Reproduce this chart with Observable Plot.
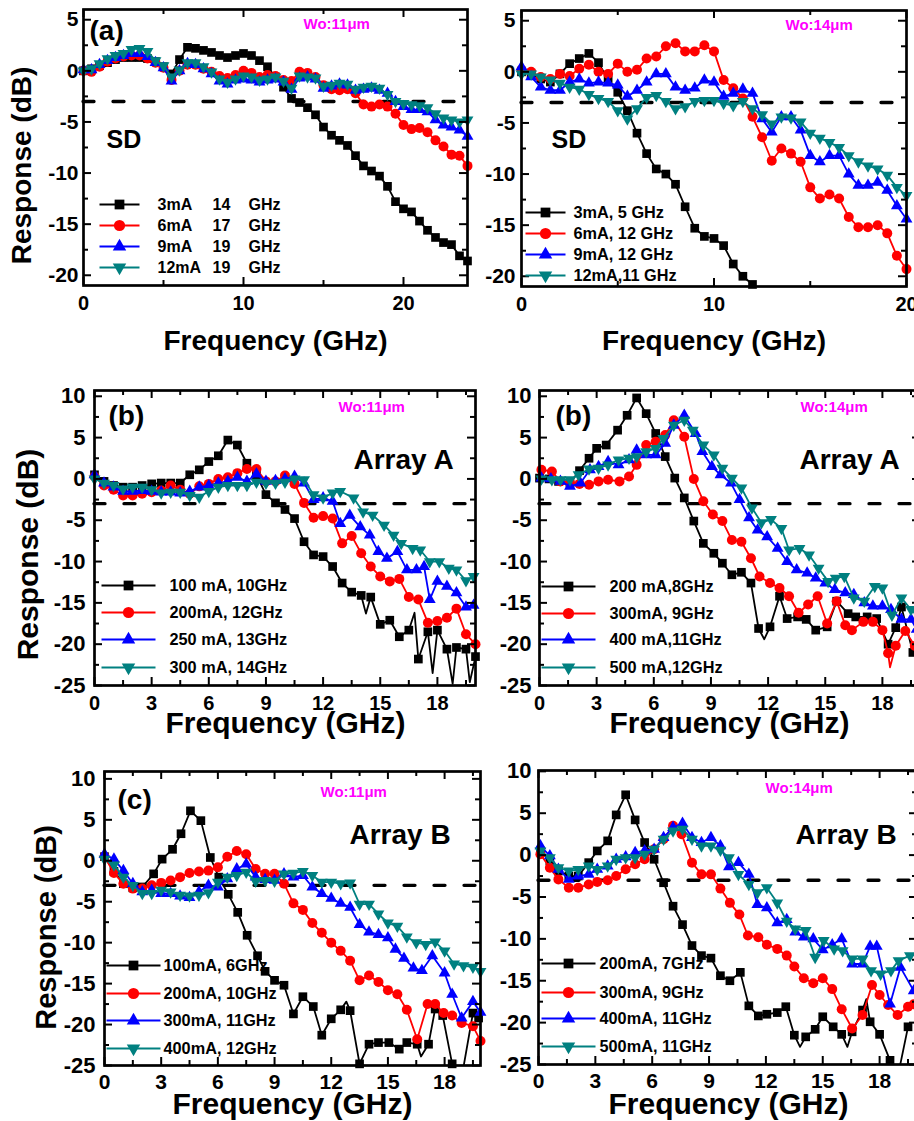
<!DOCTYPE html>
<html><head><meta charset="utf-8">
<script src="https://cdn.jsdelivr.net/npm/d3@7"></script>
<script src="https://cdn.jsdelivr.net/npm/@observablehq/plot@0.6"></script>
<style>
html,body{margin:0;padding:0;background:#fff;overflow:hidden;}
#fig{position:relative;width:914px;height:1121px;overflow:hidden;background:#fff;}
#fig svg{position:absolute;}
</style></head>
<body><div id="fig"></div>
<script>
// ---------------- DATA ----------------
// (a) SD, Wo: 11 µm  — shared frequency grid (GHz)
const freqA11 = [0,0.5,1,1.5,2,2.5,3,3.5,4,4.5,5,5.5,6,6.5,7,7.5,8,8.5,9,9.5,10,10.5,11,11.5,12,12.5,13,13.5,14,14.5,15,15.5,16,16.5,17,17.5,18,18.5,19,19.5,20,20.5,21,21.5,22,22.5,23,23.5,24];
const dbA11_3mA  = [0,0.2,0.5,0.8,1.1,1.3,1.3,1.3,1.2,0.9,0.4,-0.3,1.1,2.3,2.2,2.0,1.8,1.5,1.3,1.5,1.7,1.5,1.0,0.4,-0.6,-1.6,-2.7,-3.1,-3.6,-4.3,-5.5,-6.3,-6.8,-7.3,-8.3,-9.3,-9.8,-10.3,-11.3,-12.8,-13.5,-13.8,-14.7,-15.6,-16.3,-16.8,-17.0,-18.1,-18.6];
const dbA11_6mA  = [0,-0.1,0.4,0.9,1.2,1.4,1.5,1.5,1.2,0.8,0.3,-0.9,0.0,0.6,0.6,0.2,-0.1,-0.5,-0.7,-0.4,0.0,-0.2,-0.6,-0.4,-0.5,-0.9,-1.0,-0.1,-0.2,-0.6,-1.4,-1.8,-1.9,-1.8,-2.2,-3.3,-3.5,-3.3,-3.5,-4.2,-5.3,-5.7,-5.6,-6.0,-6.8,-7.4,-8.2,-8.3,-9.3];
const dbA11_9mA  = [0.1,0.1,0.6,1.0,1.3,1.5,1.7,1.7,1.4,0.8,0.3,-1.0,0.0,0.7,0.6,0.2,-0.3,-1.0,-1.3,-0.9,-0.8,-0.9,-1.1,-0.9,-0.8,-1.1,-1.8,-0.7,-0.6,-0.8,-1.7,-1.5,-1.3,-1.4,-1.9,-1.8,-1.7,-1.9,-2.2,-3.0,-3.5,-3.8,-3.8,-4.0,-4.8,-5.3,-5.5,-5.8,-6.4];
const dbA11_12mA = [0,0.2,0.7,1.2,1.5,1.7,2.1,2.2,1.9,1.0,0.5,-0.6,0.1,0.8,0.8,0.4,-0.1,-0.8,-1.1,-0.8,-0.5,-0.6,-0.9,-0.8,-0.6,-1.0,-1.7,-0.5,-0.6,-0.7,-1.5,-1.4,-1.2,-1.3,-1.8,-1.6,-1.5,-1.7,-2.3,-3.0,-3.2,-3.3,-3.4,-3.6,-4.2,-4.6,-4.8,-5.0,-4.8];

// (a) SD, Wo: 14 µm
const freqA14 = [0,0.5,1,1.5,2,2.5,3,3.5,4,4.5,5,5.5,6,6.5,7,7.5,8,8.5,9,9.5,10,10.5,11,11.5,12,12.5,13,13.5,14,14.5,15,15.5,16,16.5,17,17.5,18,18.5,19,19.5,20];
const dbA14_3mA  = [0,-0.2,-0.7,-1.0,-0.2,0.8,1.3,1.8,0.9,-0.8,-2.0,-3.8,-6.0,-8.0,-9.5,-10.0,-11.0,-13.2,-15.3,-16.1,-16.3,-17.0,-18.8,-20.0,-20.8];
const dbA14_6mA  = [0.2,0,-0.5,-0.7,-0.2,-0.4,0.3,0.7,0.0,-0.2,0.8,0.0,0.2,1.3,1.5,2.5,2.8,2.0,2.0,2.6,2.0,-0.8,-1.6,-2.6,-4.4,-6.4,-8.7,-7.5,-8.0,-8.8,-11.3,-12.4,-12.0,-12.4,-14.2,-15.2,-15.2,-15.0,-15.8,-18.0,-19.3];
const dbA14_9mA  = [0.5,-0.5,-1.5,-1.8,-1.8,-1.0,-0.7,-1.1,-1.0,-1.1,-1.3,-2.4,-1.8,-1.0,-0.2,-0.2,-1.5,-1.8,-1.6,-0.8,-1.0,-2.4,-2.1,-1.7,-2.1,-4.6,-5.9,-4.4,-4.4,-5.7,-8.2,-8.8,-8.2,-8.2,-10.0,-11.1,-11.1,-10.8,-11.6,-13.1,-14.4];
const dbA14_12mA = [-0.2,-0.2,-0.5,-0.8,-1.1,-1.5,-1.7,-2.2,-2.6,-2.9,-3.8,-4.6,-3.6,-2.5,-2.3,-2.9,-3.6,-3.4,-2.9,-2.8,-2.8,-3.1,-3.3,-2.9,-3.6,-4.2,-5.1,-4.4,-4.5,-4.9,-6.0,-6.5,-6.9,-7.4,-8.2,-8.8,-9.2,-9.5,-10.1,-11.3,-12.1];

// (b) Array A, Wo: 11 µm  — [GHz, dB]
const B11_100mA = [[0,0.5],[0.5,-0.3],[1,-0.8],[1.5,-1.0],[2,-1.0],[2.5,-0.8],[3,-0.6],[3.5,-0.5],[4,-0.5],[4.5,-0.5],[5,0.5],[5.5,1.1],[6,2.1],[6.5,2.8],[7,4.7],[7.5,4.1],[8,1.9],[8.5,0.5],[9,-1.9],[9.5,-2.9],[10,-3.7],[10.5,-4.8],[11,-7.6],[11.5,-9.2],[12,-9.4],[12.5,-10.6],[13,-12.6],[13.5,-13.7],[14,-14.1],[14.5,-14.3],[15,-17.6],[15.5,-17.1],[16,-19.1],[16.5,-18.3],[17,-21.8],[17.5,-18.5],[18,-18.3],[18.5,-20.6],[19,-20.4],[19.5,-20.6],[20,-21.5]];
const B11_100mA_raw = [[14.25,-16.3],[16.8,-16.2],[17.75,-23.5],[18.8,-24.8],[19.7,-24.6]];
const B11_200mA = [[0,0.3],[0.5,-0.8],[1,-1.3],[1.5,-2.0],[2,-2.0],[2.5,-1.8],[3,-1.6],[3.5,-1.4],[4,-0.8],[4.5,-1.3],[5,-1.8],[5.5,-0.9],[6,-0.6],[6.5,0.0],[7,0.2],[7.5,0.7],[8,1.2],[8.5,1.2],[9,-0.3],[9.5,-0.3],[10,0.4],[10.5,-0.6],[11,-2.9],[11.5,-4.7],[12,-4.5],[12.5,-4.8],[13,-7.8],[13.5,-6.9],[14,-9.0],[14.5,-10.6],[15,-11.8],[15.5,-12.4],[16,-12.1],[16.5,-14.3],[17,-14.6],[17.5,-17.4],[18,-17.2],[18.5,-16.8],[19,-15.7],[19.5,-18.8],[20,-20.0]];
const B11_250mA = [[0,0.5],[0.5,-0.5],[1,-1.0],[1.5,-1.5],[2,-1.5],[2.5,-1.4],[3,-1.5],[3.5,-1.6],[4,-1.6],[4.5,-1.7],[5,-1.5],[5.5,-1.0],[6,-0.8],[6.5,-0.5],[7,-0.3],[7.5,0.2],[8,-0.3],[8.5,0.6],[9,-0.3],[9.5,-0.2],[10,0.0],[10.5,0.3],[11,-0.5],[11.5,-2.5],[12,-2.3],[12.5,-2.7],[12.9,-5.4],[13.4,-4.4],[13.95,-5.8],[14.45,-6.8],[14.9,-8.8],[15.35,-9.6],[15.9,-8.8],[16.4,-11.0],[16.9,-11.0],[17.3,-10.6],[17.6,-14.6],[18.0,-12.4],[18.5,-13.0],[19.0,-13.8],[19.5,-15.5],[19.9,-15.3]];
const B11_300mA = [[0,0.0],[0.5,-0.5],[1,-0.8],[1.5,-1.2],[2,-1.0],[2.5,-1.0],[3,-1.3],[3.5,-1.7],[4,-1.6],[4.5,-1.6],[5,-2.0],[5.5,-2.2],[6,-1.5],[6.5,-1.0],[7,-0.8],[7.5,-0.8],[8,-0.8],[8.5,-0.4],[9,-0.5],[9.5,-0.5],[10,-0.4],[10.5,0.0],[11,-0.1],[11.5,-1.9],[12,-2.3],[12.5,-1.7],[12.9,-1.5],[13.6,-2.3],[14.1,-4.0],[14.6,-4.4],[15.2,-5.6],[15.7,-6.8],[16.1,-7.8],[16.7,-8.4],[17.1,-8.6],[17.6,-10.0],[18.1,-10.0],[18.6,-10.8],[19.0,-11.0],[19.5,-12.3],[19.9,-11.8]];

// (b) Array A, Wo: 14 µm
const B14_200mA = [[0,0.1],[0.5,0],[1.0,-0.3],[1.6,-0.5],[2.1,1.0],[2.6,2.5],[3.0,3.7],[3.5,4.1],[4.1,5.9],[4.6,7.7],[5.1,9.8],[5.6,7.9],[6.1,5.5],[6.6,2.7],[7.1,0.1],[7.6,-2.3],[8.1,-5.1],[8.6,-7.8],[9.15,-9.0],[9.6,-10.2],[10.1,-11.6],[10.6,-11.3],[11.1,-12.6],[11.5,-18.1],[12.1,-17.9],[12.6,-14.2],[13.0,-16.9],[13.55,-16.7],[14.0,-17.0],[14.5,-18.3],[15.1,-17.9],[15.6,-14.8],[16.2,-16.3],[16.6,-16.7],[17.2,-16.7],[17.7,-16.9],[18.3,-20.0],[18.7,-18.0],[19.0,-15.5],[19.6,-21.0]];
const B14_200mA_raw = [[11.8,-19.4]];
const B14_300mA = [[0.1,1.1],[0.65,0.9],[1.1,-0.3],[1.6,-0.5],[2.1,-0.6],[2.6,-0.7],[3.1,-0.3],[3.6,-0.1],[4.2,-0.3],[4.7,0.3],[5.1,1.7],[5.6,4.1],[6.1,4.5],[6.6,5.3],[7.05,7.1],[7.6,5.1],[8.1,0.0],[8.6,-2.7],[9.1,-4.3],[9.6,-5.1],[10.1,-7.4],[10.6,-7.6],[11.1,-9.6],[11.55,-11.8],[12.1,-12.6],[12.6,-13.2],[13.1,-14.2],[13.6,-16.2],[14.1,-15.2],[14.6,-14.2],[15.1,-17.5],[15.6,-14.8],[16.05,-17.7],[16.4,-18.3],[17.0,-17.3],[17.5,-17.3],[18.0,-18.3],[18.3,-21.1],[18.7,-20.2],[19.2,-18.4],[19.7,-20.2]];
const B14_300mA_raw = [[18.4,-22.8]];
const B14_400mA = [[0.1,0.1],[0.6,0],[1.1,-0.3],[1.6,-0.9],[2.15,-0.5],[2.65,1.1],[3.1,1.5],[3.6,2.1],[4.15,1.7],[4.7,2.3],[5.1,3.5],[5.6,2.9],[6.1,2.9],[6.6,4.3],[7.05,6.5],[7.6,7.7],[8.2,5.5],[8.55,3.3],[9.05,1.5],[9.5,0.5],[10.05,-0.5],[10.5,-2.5],[11.0,-4.7],[11.45,-6.2],[11.95,-7.0],[12.5,-8.4],[13.0,-10.0],[13.5,-11.0],[14.05,-11.4],[14.5,-12.0],[15.0,-12.6],[15.5,-13.4],[16.05,-13.8],[16.5,-14.0],[17.05,-15.0],[17.5,-15.4],[18.0,-15.4],[18.45,-15.8],[19.0,-17.0],[19.5,-17.0],[19.8,-18.2]];
const B14_500mA = [[0.1,0],[0.65,-0.1],[1.1,-0.1],[1.6,-0.1],[2.05,0.5],[2.6,1.2],[3.1,1.3],[3.6,1.7],[4.15,2.3],[4.7,2.5],[5.1,2.7],[5.6,3.3],[6.1,3.7],[6.5,4.9],[7.05,6.5],[7.6,7.1],[8.05,5.9],[8.6,4.1],[9.15,2.9],[9.6,1.3],[10.1,0.1],[10.6,-1.1],[11.15,-3.5],[11.65,-5.3],[12.15,-4.9],[12.7,-6.0],[13.1,-8.6],[13.65,-8.4],[14.15,-9.2],[14.65,-10.8],[15.15,-12.4],[15.55,-12.0],[16.0,-11.8],[16.5,-14.4],[17.05,-14.8],[17.6,-13.0],[18.0,-13.2],[18.5,-16.5],[19.0,-14.4],[19.5,-15.8],[19.9,-16.5]];

// (c) Array B, Wo: 11 µm
const C11_100mA = [[0,0.5],[0.5,-1.3],[1,-2.8],[1.5,-3.3],[2,-3.2],[2.6,-1.6],[3.05,0.2],[3.6,1.4],[4.05,3.3],[4.55,6.1],[5.1,4.9],[5.6,0.4],[6.05,-2.0],[6.55,-4.1],[7.05,-6.3],[7.55,-9.1],[8.1,-11.6],[8.5,-13.5],[9.0,-14.6],[9.5,-15.2],[10.0,-18.7],[10.5,-16.6],[11.05,-17.8],[11.5,-21.3],[12.0,-19.3],[12.5,-18.2],[13.0,-18.3],[13.5,-24.8],[14.0,-22.4],[14.5,-22.2],[15.05,-22.2],[15.6,-23.0],[16.0,-22.2],[16.55,-22.4],[17.15,-22.4],[17.5,-18.1],[17.9,-18.9],[18.4,-24.8],[19.5,-18.6],[19.8,-19.2]];
const C11_100mA_raw = [[12.8,-17.2],[16.75,-23.9],[18.9,-26.5]];
const C11_200mA = [[0,0.5],[0.5,-1.5],[1,-2.8],[1.5,-3.4],[2,-3.4],[2.5,-3.0],[3,-2.7],[3.5,-2.4],[4,-2.0],[4.5,-1.5],[5,-1.3],[5.5,-1.2],[6,-0.8],[6.5,0.5],[7,1.2],[7.5,0.8],[8,-1.0],[8.5,-1.6],[9,-1.6],[9.5,-2.8],[10,-5.2],[10.5,-6.0],[11,-7.6],[11.5,-8.8],[12,-10.0],[12.5,-11.0],[13,-12.2],[13.5,-14.6],[14,-14.0],[14.5,-14.8],[15,-15.8],[15.5,-16.3],[16,-18.2],[16.55,-21.8],[17.1,-17.5],[17.5,-17.5],[17.95,-18.6],[18.4,-18.9],[18.9,-19.8],[19.5,-20.2],[19.9,-22.0]];
const C11_300mA = [[0,0.8],[0.5,0.2],[1,-1.2],[1.5,-2.8],[2,-3.8],[2.5,-3.6],[3,-4.0],[3.5,-4.0],[4,-4.3],[4.5,-4.5],[5,-3.8],[5.5,-3.0],[6,-3.2],[6.5,-2.2],[7,-1.0],[7.5,-0.4],[8,-2.0],[8.5,-2.3],[9,-2.4],[9.5,-1.6],[10,-2.0],[10.5,-1.8],[11,-3.2],[11.5,-4.0],[12,-4.6],[12.5,-5.2],[13,-5.7],[13.5,-7.8],[14,-8.7],[14.5,-9.0],[15,-9.4],[15.4,-10.8],[15.85,-11.9],[16.35,-13.1],[16.8,-13.4],[17.35,-11.6],[18.0,-13.7],[18.4,-16.3],[18.9,-19.2],[19.5,-17.2],[19.9,-18.5]];
const C11_400mA = [[0,0.2],[0.5,-0.5],[1,-2.0],[1.5,-3.0],[2,-4.0],[2.5,-4.0],[3,-3.6],[3.5,-3.8],[4,-4.2],[4.5,-4.3],[5,-4.2],[5.5,-3.9],[6,-2.6],[6.5,-2.0],[7,-1.8],[7.5,-1.4],[8,-2.5],[8.5,-2.4],[9,-2.5],[9.5,-1.6],[10,-1.5],[10.5,-1.3],[11,-1.8],[11.5,-2.6],[12,-2.6],[12.5,-2.8],[13,-2.7],[13.5,-5.3],[14,-5.3],[14.5,-6.5],[15,-7.6],[15.5,-8.0],[16,-9.3],[16.5,-10.0],[17,-10.2],[17.5,-9.9],[18,-11.0],[18.5,-12.6],[19,-12.8],[19.5,-13.0],[19.9,-13.5]];

// (c) Array B, Wo: 14 µm
const C14_200mA = [[0.1,0.5],[0.6,-0.7],[1.05,-1.9],[1.6,-2.5],[2.1,-2.5],[2.65,-0.9],[3.1,0.5],[3.65,1.7],[4.1,4.8],[4.6,7.2],[5.1,4.2],[5.6,1.5],[6.1,-0.5],[6.6,-3.3],[7.1,-6.1],[7.6,-8.3],[8.1,-10.8],[8.6,-12.0],[9.1,-12.3],[9.6,-14.4],[10.1,-15.0],[10.65,-14.0],[11.1,-18.0],[11.6,-19.2],[12.05,-19.0],[12.6,-18.8],[13.05,-18.1],[13.5,-21.5],[14.1,-21.7],[14.6,-20.8],[15.0,-19.3],[15.55,-20.5],[16.0,-21.4],[16.55,-21.1],[17.1,-18.5],[17.5,-19.9],[18.0,-21.4],[18.55,-24.5],[19.0,-26],[19.5,-20.5]];
const C14_200mA_raw = [[13.8,-22.9],[16.3,-22.9],[17.3,-17.2]];
const C14_300mA = [[0.1,0.1],[0.6,-1.5],[1.05,-2.9],[1.6,-3.9],[2.1,-3.9],[2.65,-3.5],[3.1,-3.2],[3.65,-3.0],[4.1,-2.5],[4.6,-1.7],[5.1,-1.1],[5.6,-0.5],[6.1,0.7],[6.6,1.9],[7.1,3.5],[7.55,2.5],[8.1,-0.9],[8.6,-2.3],[9.1,-2.3],[9.6,-4.0],[10.1,-5.7],[10.6,-7.1],[11.05,-9.6],[11.6,-9.8],[12.05,-10.7],[12.6,-11.2],[13.1,-12.0],[13.5,-13.3],[14.0,-14.7],[14.5,-15.3],[15.0,-14.7],[15.5,-16.0],[16.0,-18.4],[16.55,-20.7],[17.1,-19.1],[17.6,-15.5],[18.0,-16.7],[18.45,-17.9],[18.95,-19.1],[19.5,-18.1],[19.8,-17.8]];
const C14_400mA = [[0.1,1.1],[0.6,-0.1],[1.05,-1.7],[1.6,-2.9],[2.1,-2.5],[2.65,-2.3],[3.1,-1.7],[3.65,-1.3],[4.1,-0.5],[4.6,-0.2],[5.1,0.3],[5.6,0.5],[6.1,0.7],[6.6,2.1],[7.1,3.3],[7.6,3.8],[8.1,2.1],[8.6,1.5],[9.1,2.1],[9.6,1.1],[10.05,-1.4],[10.55,-0.9],[11.1,-2.3],[11.55,-5.9],[12.05,-6.3],[12.6,-8.1],[13.1,-7.7],[13.55,-9.2],[14.0,-9.8],[14.5,-10.0],[15.0,-11.3],[15.5,-10.7],[16.0,-10.0],[16.55,-13.0],[17.1,-13.0],[17.5,-10.9],[17.85,-10.9],[18.55,-17.8],[19.1,-13.4],[19.8,-16.2]];
const C14_500mA = [[0.1,0.5],[0.6,-0.3],[1.05,-1.5],[1.6,-1.9],[2.1,-1.7],[2.65,-1.3],[3.1,-1.7],[3.65,-1.3],[4.1,-0.5],[4.6,-0.3],[5.1,-0.3],[5.6,0.1],[6.1,0.7],[6.6,1.9],[7.1,2.9],[7.6,3.1],[8.1,1.9],[8.6,1.1],[9.1,1.1],[9.6,0.6],[10.05,-0.3],[10.55,-2.3],[11.1,-3.5],[11.55,-4.5],[12.05,-3.9],[12.6,-5.7],[13.1,-7.9],[13.55,-8.8],[14.1,-9.0],[14.6,-12.2],[15.05,-10.2],[15.6,-11.2],[16.05,-11.4],[16.55,-12.4],[17.1,-12.4],[17.55,-13.8],[18.05,-14.2],[18.6,-13.8],[19.0,-12.6],[19.6,-12.0]];

// Legend texts
const legendA11 = [["3mA","14","GHz"],["6mA","17","GHz"],["9mA","19","GHz"],["12mA","19","GHz"]];
const legendA14 = [["3mA, 5 GHz"],["6mA, 12 GHz"],["9mA, 12 GHz"],["12mA,11 GHz"]];
const legendB11 = [["100 mA, 10GHz"],["200mA, 12GHz"],["250 mA, 13GHz"],["300 mA, 14GHz"]];
const legendB14 = [["200 mA,8GHz"],["300mA, 9GHz"],["400 mA,11GHz"],["500 mA,12GHz"]];
const legendC11 = [["100mA, 6GHz"],["200mA, 10GHz"],["300mA, 11GHz"],["400mA, 12GHz"]];
const legendC14 = [["200mA, 7GHz"],["300mA, 9GHz"],["400mA, 11GHz"],["500mA, 11GHz"]];

// Axis ticks
const xMajorA = [0,10,20], xMinorA = [5,15];
const yMajorA = [-20,-15,-10,-5,0,5], yMinorA = [-17.5,-12.5,-7.5,-2.5,2.5];
const xMajorBC = [0,3,6,9,12,15,18], xMinorBC = [1.5,4.5,7.5,10.5,13.5,16.5,19.5];
const yMajorBC = [-25,-20,-15,-10,-5,0,5,10], yMinorBC = [-22.5,-17.5,-12.5,-7.5,-2.5,2.5,7.5];
const cutoff = [-3];

// ---------------- STYLE ----------------
const FONT = "'Liberation Sans', Arial, Helvetica, sans-serif";
const BLACK = "#000000", RED = "#ff0000", BLUE = "#0000ff", TEAL = "#008080", MAGENTA = "#ff00ff";
const sqrt3 = Math.sqrt(3);
const triangleDown = {draw(ctx, size) {
  const y = -Math.sqrt(size / (sqrt3 * 3));
  ctx.moveTo(0, -y * 2); ctx.lineTo(-sqrt3 * y, y); ctx.lineTo(sqrt3 * y, y); ctx.closePath();
}};
const hline = half => ({draw(ctx) { ctx.moveTo(-half, 0); ctx.lineTo(half, 0); }});
const STY = [
  {color: BLACK, symbol: "square", r: 4.9},
  {color: RED, symbol: "circle", r: 5.0},
  {color: BLUE, symbol: "triangle", r: 4.4},
  {color: TEAL, symbol: triangleDown, r: 4.4}
];

const panels = [
  { left: 0, top: 0, width: 487, height: 370, fl: 83, ft: 9, fr: 467, fb: 285,
    xDomain: [0, 24], yDomain: [-21, 6], xMajor: xMajorA, xMinor: xMinorA, yMajor: yMajorA, yMinor: yMinorA,
    yFont: 21, xFont: 20, yPad: 5, xPad: 10,
    series: [{d: d3.zip(freqA11, dbA11_3mA)}, {d: d3.zip(freqA11, dbA11_6mA)}, {d: d3.zip(freqA11, dbA11_9mA)}, {d: d3.zip(freqA11, dbA11_12mA)}],
    legend: {rows: legendA11, cx: 119, half: 20, tx: [157, 212, 248], cy: [204, 225, 246, 267], size: 16},
    texts: [{t: "(a)", x: 89, y: 31, s: 28}, {t: "Wo:11\u03bcm", x: 303, y: 23.5, s: 15, fill: MAGENTA}, {t: "SD", x: 106, y: 139, s: 25}],
    yTitle: {x: 22, y: 165, s: 28}, xTitle: {x: 275, y: 341, s: 28} },
  { left: 470, top: 0, width: 460, height: 370, fl: 521, ft: 10, fr: 906, fb: 286,
    xDomain: [0, 20], yDomain: [-21, 6], xMajor: xMajorA, xMinor: xMinorA, yMajor: yMajorA, yMinor: yMinorA,
    yFont: 21, xFont: 20, yPad: 6, xPad: 10,
    series: [{d: d3.zip(freqA14, dbA14_3mA)}, {d: d3.zip(freqA14, dbA14_6mA)}, {d: d3.zip(freqA14, dbA14_9mA)}, {d: d3.zip(freqA14, dbA14_12mA)}],
    legend: {rows: legendA14, cx: 545, half: 20, tx: [573], cy: [212, 233, 254, 275], size: 16.3},
    texts: [{t: "Wo:14\u03bcm", x: 785, y: 25, s: 15, fill: MAGENTA}, {t: "SD", x: 551, y: 139, s: 25}],
    xTitle: {x: 713.5, y: 341, s: 28} },
  { left: 0, top: 370, width: 487, height: 370, fl: 94, ft: 390, fr: 475, fb: 685,
    xDomain: [0, 20], yDomain: [-25, 10.7], xMajor: xMajorBC, xMinor: xMinorBC, yMajor: yMajorBC, yMinor: yMinorBC,
    yFont: 22, xFont: 20, yPad: 9, xPad: 10,
    series: [{d: B11_100mA, raw: B11_100mA_raw}, {d: B11_200mA}, {d: B11_250mA}, {d: B11_300mA}],
    legend: {rows: legendB11, cx: 128, half: 27, tx: [169], cy: [585, 612, 639, 667], size: 16.3},
    texts: [{t: "(b)", x: 108, y: 416, s: 28}, {t: "Wo:11\u03bcm", x: 338, y: 407, s: 15, fill: MAGENTA}, {t: "Array A", x: 353, y: 460, s: 28}],
    yTitle: {x: 28, y: 554, s: 30}, xTitle: {x: 285, y: 723, s: 30} },
  { left: 470, top: 370, width: 460, height: 370, fl: 539, ft: 390, fr: 920, fb: 685,
    xDomain: [0, 20], yDomain: [-25, 10.7], xMajor: xMajorBC, xMinor: xMinorBC, yMajor: yMajorBC, yMinor: yMinorBC,
    yFont: 22, xFont: 20, yPad: 8, xPad: 10,
    series: [{d: B14_200mA, raw: B14_200mA_raw}, {d: B14_300mA, raw: B14_300mA_raw}, {d: B14_400mA}, {d: B14_500mA}],
    legend: {rows: legendB14, cx: 568, half: 27, tx: [609], cy: [586, 613, 639, 667], size: 16.3},
    texts: [{t: "(b)", x: 555, y: 416, s: 28}, {t: "Wo:14\u03bcm", x: 800, y: 407, s: 15, fill: MAGENTA}, {t: "Array A", x: 799, y: 460, s: 28}],
    xTitle: {x: 729, y: 723, s: 30} },
  { left: 0, top: 740, width: 487, height: 381, fl: 104, ft: 771, fr: 480, fb: 1065,
    xDomain: [0, 19.9], yDomain: [-25, 10.9], xMajor: xMajorBC, xMinor: xMinorBC, yMajor: yMajorBC, yMinor: yMinorBC,
    yFont: 22, xFont: 21, yPad: 9, xPad: 9,
    series: [{d: C11_100mA, raw: C11_100mA_raw}, {d: C11_200mA}, {d: C11_300mA}, {d: C11_400mA}],
    legend: {rows: legendC11, cx: 133, half: 27, tx: [163], cy: [965, 993, 1020, 1048], size: 16.3},
    texts: [{t: "(c)", x: 117, y: 800, s: 28}, {t: "Wo:11\u03bcm", x: 320, y: 792, s: 15, fill: MAGENTA}, {t: "Array B", x: 349, y: 835, s: 28}],
    yTitle: {x: 46, y: 927, s: 29}, xTitle: {x: 292, y: 1104, s: 30} },
  { left: 470, top: 740, width: 460, height: 381, fl: 538, ft: 770, fr: 917, fb: 1064,
    xDomain: [0, 20], yDomain: [-25, 10.1], xMajor: xMajorBC, xMinor: xMinorBC, yMajor: yMajorBC, yMinor: yMinorBC,
    yFont: 22, xFont: 21, yPad: 7, xPad: 9,
    series: [{d: C14_200mA, raw: C14_200mA_raw}, {d: C14_300mA}, {d: C14_400mA}, {d: C14_500mA}],
    legend: {rows: legendC14, cx: 568, half: 27, tx: [599], cy: [963, 992, 1018, 1046], size: 16.3},
    texts: [{t: "Wo:14\u03bcm", x: 765, y: 788, s: 15, fill: MAGENTA}, {t: "Array B", x: 795, y: 835, s: 28}],
    xTitle: {x: 728, y: 1104, s: 30} }
];

function buildPanel(p) {
  const mL = p.fl - p.left, mT = p.ft - p.top, mR = p.left + p.width - p.fr, mB = p.top + p.height - p.fb;
  const fw = p.fr - p.fl, fh = p.fb - p.ft;
  const at = (px, py) => ({frameAnchor: "top-left", dx: px - p.fl, dy: py - p.ft});
  const txt = (o, extra = {}) => Plot.text([o.t], {...at(o.x, o.y), textAnchor: "start", lineAnchor: "middle",
    fontSize: o.s, fontWeight: "bold", fontFamily: FONT, fill: o.fill || BLACK, ...extra});
  const marks = [];
  marks.push(Plot.ruleY(cutoff, {stroke: BLACK, strokeWidth: 3.3, strokeDasharray: "11,19", strokeLinecap: "round"}));
  p.series.forEach((s, i) => {
    const st = STY[i];
    const lineData = s.raw ? [...s.d, ...s.raw].sort((a, b) => a[0] - b[0]) : s.d;
    marks.push(Plot.line(lineData, {x: d => d[0], y: d => d[1], stroke: st.color, strokeWidth: 1.8, clip: true}));
    const dots = s.d.filter(d => d[1] >= p.yDomain[0] && d[0] <= p.xDomain[1]);
    marks.push(Plot.dot(dots, {x: d => d[0], y: d => d[1], symbol: st.symbol, r: st.r, fill: st.color, stroke: "none"}));
  });
  // tick marks (inward, all sides)
  marks.push(Plot.ruleY(p.yMajor, {insetRight: fw - 8, stroke: BLACK, strokeWidth: 2}));
  marks.push(Plot.ruleY(p.yMinor, {insetRight: fw - 5, stroke: BLACK, strokeWidth: 2}));
  marks.push(Plot.ruleY(p.yMajor, {insetLeft: fw - 8, stroke: BLACK, strokeWidth: 2}));
  marks.push(Plot.ruleY(p.yMinor, {insetLeft: fw - 5, stroke: BLACK, strokeWidth: 2}));
  marks.push(Plot.ruleX(p.xMajor, {insetTop: fh - 8, stroke: BLACK, strokeWidth: 2}));
  marks.push(Plot.ruleX(p.xMinor, {insetTop: fh - 5, stroke: BLACK, strokeWidth: 2}));
  marks.push(Plot.ruleX(p.xMajor, {insetBottom: fh - 8, stroke: BLACK, strokeWidth: 2}));
  marks.push(Plot.ruleX(p.xMinor, {insetBottom: fh - 5, stroke: BLACK, strokeWidth: 2}));
  marks.push(Plot.frame({stroke: BLACK, strokeWidth: 2.7}));
  marks.push(Plot.axisY(p.yMajor, {anchor: "left", tickSize: 0, tickPadding: p.yPad, fontSize: p.yFont, fontWeight: "bold",
    fontFamily: FONT, fill: BLACK, tickFormat: d => String(d), label: null}));
  marks.push(Plot.axisX(p.xMajor, {anchor: "bottom", tickSize: 0, tickPadding: p.xPad, fontSize: p.xFont, fontWeight: "bold",
    fontFamily: FONT, fill: BLACK, tickFormat: d => String(d), label: null}));
  // legend
  p.legend.rows.forEach((row, i) => {
    const st = STY[i], cy = p.legend.cy[i];
    marks.push(Plot.dot([0], {...at(p.legend.cx, cy), symbol: hline(p.legend.half), stroke: st.color, strokeWidth: 2.2, fill: "none"}));
    marks.push(Plot.dot([0], {...at(p.legend.cx, cy), symbol: st.symbol, r: st.r + 0.6, fill: st.color, stroke: "none"}));
    row.forEach((t, j) => marks.push(txt({t, x: p.legend.tx[j], y: cy, s: p.legend.size})));
  });
  for (const o of p.texts) marks.push(txt(o));
  if (p.yTitle) marks.push(txt({t: "Response (dB)", ...p.yTitle}, {textAnchor: "middle", rotate: -90}));
  if (p.xTitle) marks.push(txt({t: "Frequency (GHz)", ...p.xTitle}, {textAnchor: "middle"}));

  const svg = Plot.plot({
    width: p.width, height: p.height,
    marginLeft: mL, marginRight: mR, marginTop: mT, marginBottom: mB,
    x: {domain: p.xDomain}, y: {domain: p.yDomain},
    style: {background: "none", overflow: "visible", fontFamily: FONT, maxWidth: "none"},
    marks
  });
  svg.style.left = p.left + "px";
  svg.style.top = p.top + "px";
  return svg;
}

const fig = document.getElementById("fig");
for (const p of panels) fig.appendChild(buildPanel(p));
</script>
</body></html>
